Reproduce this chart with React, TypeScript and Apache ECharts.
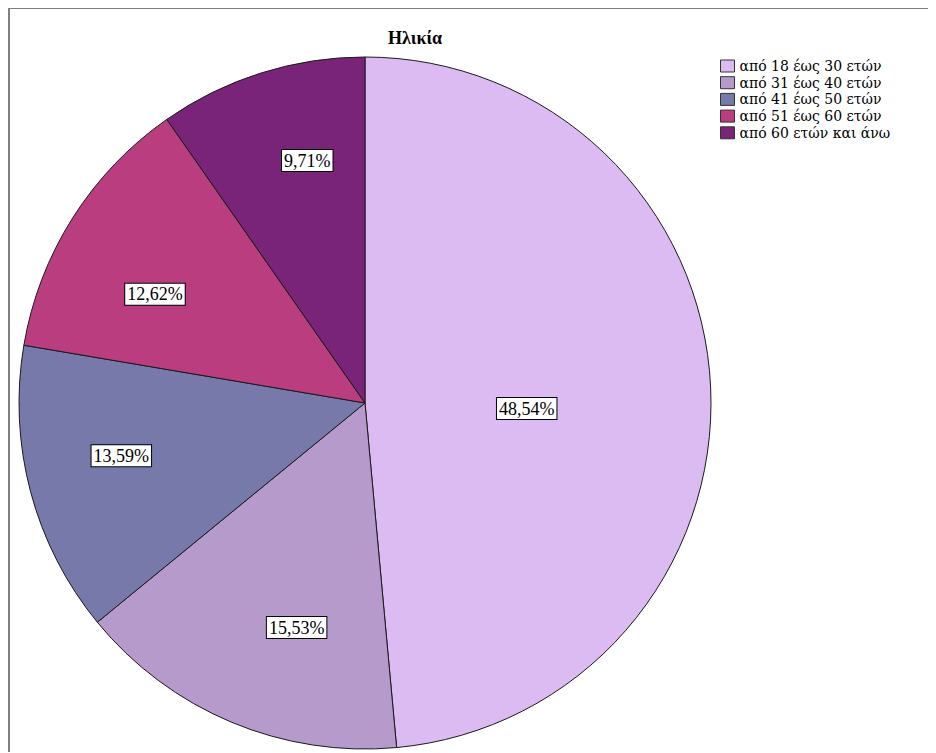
import React, { useEffect, useRef } from "react";
import * as echarts from "echarts";

const title = "Ηλικία";
const categories = [
  "από 18 έως 30 ετών",
  "από 31 έως 40 ετών",
  "από 41 έως 50 ετών",
  "από 51 έως 60 ετών",
  "από 60 ετών και άνω",
];
const counts = [50, 16, 14, 13, 10];
const palette = ["#DCBBF2", "#B69ACB", "#7679A9", "#BA3D80", "#7A2479"];

const FONT = "'Liberation Serif', 'Times New Roman', serif";
const LEGEND_FONT = "'DejaVu Serif', 'Liberation Serif', serif";

export default function App() {
  const ref = useRef<HTMLDivElement>(null);
  useEffect(() => {
    if (!ref.current) return;
    const chart = echarts.init(ref.current, undefined, { renderer: "svg" });
    const center = [355, 394];
    const R = 346;
    const total = counts.reduce((a, b) => a + b, 0);
    const fmt = (p: any) =>
      ((p.value / total) * 100).toFixed(2).replace(".", ",") + "%";
    // small visual nudges of label boxes (style only)
    const nudges = [
      [-2, 13],
      [29, -8],
      [0, -12],
      [3, 26],
      [18, -2],
    ];
    const labelStyle = {
      show: true,
      position: "inside",
      formatter: fmt,
      fontFamily: FONT,
      fontSize: 18,
      color: "#000",
      backgroundColor: "#fff",
      borderColor: "#000",
      borderWidth: 1,
      padding: [2, 2, 1, 2],
    };
    const baseData = categories.map((c, i) => ({
      name: c,
      value: counts[i],
      itemStyle: { color: palette[i] },
    }));
    chart.setOption({
      animation: false,
      title: {
        text: title,
        left: 400,
        top: 15,
        textAlign: "center",
        textStyle: { fontFamily: FONT, fontSize: 18, fontWeight: "bold", color: "#000" },
      },
      legend: {
        orient: "vertical",
        left: 705,
        top: 44,
        itemWidth: 14,
        itemHeight: 12,
        itemGap: 0.7,
        icon: "rect",
        data: categories,
        textStyle: { fontFamily: LEGEND_FONT, fontSize: 14, lineHeight: 16, color: "#000" },
        itemStyle: { borderColor: "#333", borderWidth: 1 },
        selectedMode: false,
      },
      series: [
        {
          type: "pie",
          center,
          radius: [0, R],
          startAngle: 90,
          clockwise: true,
          label: { show: false },
          labelLine: { show: false },
          itemStyle: { borderColor: "#1a1a1a", borderWidth: 1 },
          silent: true,
          data: baseData,
        },
        {
          type: "pie",
          center,
          radius: [R * 0.44, R],
          startAngle: 90,
          silent: true,
          avoidLabelOverlap: false,
          itemStyle: { color: "rgba(0,0,0,0)", borderWidth: 0 },
          label: labelStyle,
          labelLine: { show: false },
          data: categories.map((c, i) => ({
            name: c,
            value: counts[i],
            itemStyle: { color: "rgba(0,0,0,0)" },
            label: { show: i !== 0, offset: nudges[i] },
          })),
        },
        {
          type: "pie",
          center,
          radius: [0, R * 0.93],
          startAngle: 90,
          silent: true,
          avoidLabelOverlap: false,
          itemStyle: { color: "rgba(0,0,0,0)", borderWidth: 0 },
          label: labelStyle,
          labelLine: { show: false },
          data: categories.map((c, i) => ({
            name: c,
            value: counts[i],
            itemStyle: { color: "rgba(0,0,0,0)" },
            label: { show: i === 0, offset: nudges[i] },
          })),
        },
      ],
    });
    return () => chart.dispose();
  }, []);
  return (
    <div
      style={{
        width: 928,
        height: 745,
        borderTop: "2px solid #7f7f7f",
        borderLeft: "2px solid #7f7f7f",
        boxSizing: "border-box",
        marginTop: -1,
      }}
    >
      <div ref={ref} style={{ width: 926, height: 743 }} />
    </div>
  );
}
